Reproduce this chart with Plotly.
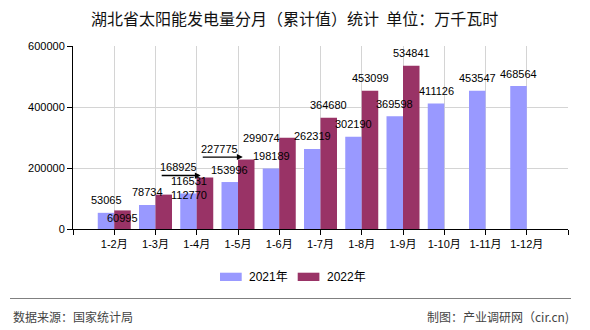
import plotly.graph_objects as go

# ---- data ----
categories = ["1-2月", "1-3月", "1-4月", "1-5月", "1-6月", "1-7月",
              "1-8月", "1-9月", "1-10月", "1-11月", "1-12月"]
series_names = ["2021年", "2022年"]
values_2021 = [53065, 78734, 116531, 153996, 198189, 262319,
               302190, 369598, 411126, 453547, 468564]
values_2022 = [60995, 112770, 168925, 227775, 299074, 364680,
               453099, 534841, None, None, None]
y_ticks = [0, 200000, 400000, 600000]
title_text = "湖北省太阳能发电量分月（累计值）统计  单位：万千瓦时"
source_text = "数据来源：国家统计局"
maker_text = "制图：产业调研网（cir.cn)"

# ---- styles / layout geometry ----
W_PX, H_PX = 590, 330
L, R, T, B = 73, 568, 46, 229
PW, PH = R - L, B - T
COL_2021 = "#9999FF"
COL_2022 = "#993366"
FONT = "Liberation Sans, Arial, Noto Sans CJK SC, sans-serif"
CJK = "Noto Sans CJK SC, sans-serif"


def px_x(p):
    return (p - L) / PW


def px_y(p):
    return (B - p) / PH


xpos = [i + 1 for i in range(len(categories))]

fig = go.Figure()
fig.add_trace(go.Bar(x=xpos, y=values_2021, name=series_names[0],
                     marker=dict(color=COL_2021, line=dict(width=0)),
                     showlegend=False))
fig.add_trace(go.Bar(x=xpos, y=values_2022, name=series_names[1],
                     marker=dict(color=COL_2022, line=dict(width=0)),
                     showlegend=False))

# value labels (offsets in pixels relative to bar top centre)
default_shift = (0, 12.5)
shift_2021 = {}
shift_2022 = {0: (0, -8), 1: (25, 0), 2: (-26.5, 10), 3: (-26.7, 11), 4: (-26, 0)}

annotations = []
for i, v in enumerate(values_2021):
    if v is None:
        continue
    dx, dy = shift_2021.get(i, default_shift)
    annotations.append(dict(x=xpos[i] - 0.2, y=v, xref="x", yref="y", text=str(v),
                            showarrow=False, xshift=dx, yshift=dy,
                            font=dict(family=FONT, size=11, color="#000000")))
for i, v in enumerate(values_2022):
    if v is None:
        continue
    dx, dy = shift_2022.get(i, default_shift)
    annotations.append(dict(x=xpos[i] + 0.2, y=v, xref="x", yref="y", text=str(v),
                            showarrow=False, xshift=dx, yshift=dy,
                            font=dict(family=FONT, size=11, color="#000000")))

# leader arrows for displaced labels
arrow_specs = {2: (-4.3, 2, -41), 3: (-3.5, 2.5, -42)}
for i, (dx, dy, ax) in arrow_specs.items():
    annotations.append(dict(x=xpos[i] + 0.2, y=values_2022[i], xref="x", yref="y",
                            text=" ", showarrow=True, ax=ax, ay=0,
                            xshift=dx, yshift=dy, arrowhead=2, arrowsize=0.9,
                            arrowwidth=1.3, arrowcolor="#000000",
                            font=dict(size=2)))

# title
annotations.append(dict(x=px_x(294.5), y=px_y(18), xref="paper", yref="paper",
                        text=title_text, showarrow=False, xanchor="center", yanchor="middle",
                        font=dict(family=CJK, size=16, color="#111111")))
# legend (manual)
legend_items = [(series_names[0], COL_2021, 220, 246.7),
                (series_names[1], COL_2022, 297.7, 324.7)]
shapes = []
for name, col, sx, tx in legend_items:
    shapes.append(dict(type="rect", xref="paper", yref="paper",
                       x0=px_x(sx), x1=px_x(sx + 21.7), y0=px_y(281), y1=px_y(272.7),
                       fillcolor=col, line=dict(width=0)))
    annotations.append(dict(x=px_x(tx), y=px_y(277), xref="paper", yref="paper",
                            text=name, showarrow=False, xanchor="left", yanchor="middle",
                            font=dict(family=FONT, size=12, color="#000000")))
# footer
shapes.append(dict(type="line", xref="paper", yref="paper",
                   x0=px_x(10), x1=px_x(571), y0=px_y(298.5), y1=px_y(298.5),
                   line=dict(color="#808080", width=1.2)))
annotations.append(dict(x=px_x(11), y=px_y(316.5), xref="paper", yref="paper",
                        text=source_text, showarrow=False, xanchor="left", yanchor="middle",
                        font=dict(family=CJK, size=12, color="#444444")))
annotations.append(dict(x=px_x(570.5), y=px_y(316.5), xref="paper", yref="paper",
                        text=maker_text, showarrow=False, xanchor="right", yanchor="middle",
                        font=dict(family=CJK, size=12, color="#444444")))

fig.update_layout(
    width=W_PX, height=H_PX,
    margin=dict(l=L, r=W_PX - R, t=T, b=H_PX - B, pad=0),
    paper_bgcolor="#ffffff", plot_bgcolor="#ffffff",
    barmode="group", bargap=0.2, bargroupgap=0,
    showlegend=False,
    annotations=annotations, shapes=shapes,
    font=dict(family=FONT, size=11, color="#000000"),
)
fig.update_xaxes(range=[0, len(categories) + 1],
                 tickmode="array", tickvals=list(range(0, len(categories) + 2)),
                 ticktext=[""] + categories + [""],
                 showgrid=True, gridcolor="#d4d4d4", gridwidth=1,
                 showline=True, linecolor="#000000", linewidth=1,
                 ticks="outside", ticklen=5, tickcolor="#000000", tickwidth=1,
                 tickfont=dict(family=FONT, size=11, color="#000000"),
                 zeroline=False, fixedrange=True)
fig.update_yaxes(range=[0, 600000], tickmode="array", tickvals=y_ticks,
                 ticktext=[str(t) for t in y_ticks],
                 showgrid=True, gridcolor="#d4d4d4", gridwidth=1,
                 showline=True, linecolor="#000000", linewidth=1,
                 ticks="outside", ticklen=5, tickcolor="#000000", tickwidth=1,
                 tickfont=dict(family=FONT, size=11, color="#000000"),
                 zeroline=False, fixedrange=True)

fig.write_html("out.html", config={"displayModeBar": False})
